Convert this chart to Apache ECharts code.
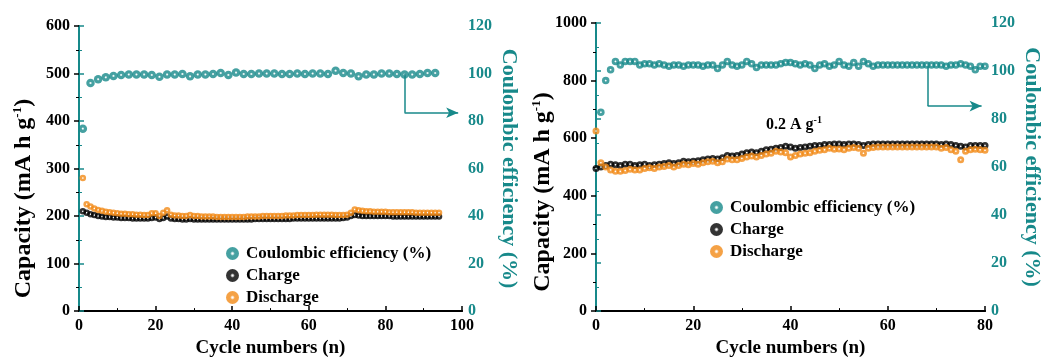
<!DOCTYPE html>
<html>
<head>
<meta charset="utf-8">
<script src="https://cdn.jsdelivr.net/npm/echarts@6/dist/echarts.min.js"></script>
<style>
  html, body { margin: 0; padding: 0; background: #fff; }
  #chart { width: 1049px; height: 363px; }
</style>
</head>
<body>
<div id="chart"></div>
<script>
// left panel: cycles 1..94 (CE every second cycle)
const leftCharge = [210,207,204,202,200,199,198,198,197,197,196,196,196,195,195,195,195,195,196,197,
  194,196,199,195,194,194,193,193,194,193,193,193,193,193,193,193,193,193,193,193,
  193,193,193,193,193,194,194,194,194,194,194,194,194,194,194,195,195,195,195,195,
  195,195,195,195,195,195,195,195,196,197,200,202,201,200,200,200,200,200,200,200,
  200,199,199,199,199,199,199,199,199,199,199,199,199,199];
const leftDischarge = [280,225,220,216,213,211,209,208,207,206,205,205,204,204,203,203,202,202,206,206,
  200,207,212,203,201,201,200,200,202,200,200,199,199,199,199,198,198,198,198,198,
  198,198,198,199,199,199,199,200,200,200,200,200,200,201,201,201,202,202,202,202,
  202,203,203,203,203,203,202,202,202,203,207,214,212,211,210,210,209,209,209,209,
  208,208,208,208,208,208,208,207,207,207,207,207,207,207];
const leftCE = [76.8,96.0,97.6,98.4,99.0,99.4,99.6,99.6,99.6,99.4,98.6,99.6,99.6,99.8,98.8,99.6,
  99.6,99.8,100.2,99.4,100.4,99.8,99.8,100.0,100.0,100.0,99.8,99.8,100.0,99.8,100.0,100.0,
  99.8,101.2,100.2,100.0,98.8,99.6,99.6,100.0,100.0,99.8,99.6,99.6,99.8,100.2,100.2];

// right panel: cycles 0..80 for capacity, 1..80 for CE
const rightCharge = [495,500,505,510,508,505,510,510,505,508,510,505,508,510,512,515,512,515,520,518,
  520,522,525,528,530,528,532,540,538,540,545,550,552,550,555,560,562,565,568,572,
  570,565,568,570,572,575,575,578,578,580,580,578,580,580,578,575,578,580,580,580,
  580,580,580,580,580,580,580,580,580,580,580,578,580,578,575,572,570,575,575,575,575];
const rightDischarge = [625,515,500,490,485,485,488,492,490,490,495,498,495,500,502,505,500,505,510,508,
  512,510,515,518,520,515,518,528,525,525,530,535,538,535,540,545,548,555,552,550,
  535,540,545,548,550,555,558,560,565,562,563,560,565,568,565,548,565,568,570,570,
  570,570,570,570,570,570,570,570,570,570,570,565,568,560,555,525,555,560,562,560,558];
const rightCE = [82.8,96.0,100.5,104.0,102.5,104.0,104.0,104.0,102.5,103.0,103.0,102.5,103.0,102.5,102.0,102.5,
  102.5,102.0,102.5,102.5,102.5,102.0,102.5,102.5,101.0,102.5,104.0,102.5,102.0,102.5,104.0,103.0,
  101.5,102.5,102.5,102.5,102.5,103.0,103.5,103.5,103.0,102.5,103.0,102.5,101.0,102.5,103.0,102.0,
  102.5,104.0,102.5,102.0,103.5,102.0,104.0,103.0,102.0,102.5,102.5,102.5,102.5,102.5,102.5,102.5,
  102.5,102.5,102.5,102.5,102.5,102.5,102.5,102.0,102.5,102.5,103.0,102.5,102.0,100.5,102.0,102.0];

const leftXTicks = [0, 100, 20];
const rightXTicks = [0, 80, 20];

const teal = '#17898a';
const orange = '#f28a17';
const font = 'Liberation Serif';

function ball(c) {
  return new echarts.graphic.RadialGradient(0.5, 0.5, 0.5, [
    { offset: 0, color: '#ffffff' },
    { offset: 0.08, color: '#ffffff' },
    { offset: 0.36, color: c },
    { offset: 1, color: c }
  ]);
}

function pairs(vals, start, step) {
  var out = [];
  for (var i = 0; i < vals.length; i++) out.push([start + i * step, vals[i]]);
  return out;
}

function xAx(grid, ticks) {
  return {
    type: 'value', gridIndex: grid, min: ticks[0], max: ticks[1], interval: ticks[2],
    name: 'Cycle numbers (n)', nameLocation: 'middle', nameGap: 25,
    nameTextStyle: { fontFamily: font, fontWeight: 'bold', fontSize: 19, color: '#000' },
    axisLine: { lineStyle: { color: '#000', width: 2 } },
    axisTick: { inside: true, length: 5, lineStyle: { color: '#000', width: 1.5 } },
    minorTick: { show: true, splitNumber: 2, length: 3, lineStyle: { color: '#000' } },
    axisLabel: { fontFamily: font, fontWeight: 'bold', fontSize: 16, color: '#000', margin: 7 },
    splitLine: { show: false }
  };
}
function topAx(grid, ticks) {
  return {
    type: 'value', gridIndex: grid, position: 'top', min: ticks[0], max: ticks[1],
    axisLine: { lineStyle: { color: '#000', width: 2 } },
    axisTick: { show: false }, axisLabel: { show: false }, splitLine: { show: false }
  };
}
function capAx(grid, max, interval, gap, shift) {
  return {
    type: 'value', gridIndex: grid, position: 'left', min: 0, max: max, interval: interval,
    name: '{a|Capacity (mA h g}{s|-1}{a|)}', nameLocation: 'middle', nameGap: gap,
    nameMoveOverlap: false,
    nameTextStyle: {
      padding: [0, shift, 0, 0],
      rich: {
        a: { fontFamily: font, fontWeight: 'bold', fontSize: 24, color: '#000', lineHeight: 26 },
        s: { fontFamily: font, fontWeight: 'bold', fontSize: 13, color: '#000', verticalAlign: 'top', lineHeight: 26 }
      }
    },
    axisLine: { show: true, lineStyle: { color: '#000', width: 2 } },
    axisTick: { show: true, length: 5, lineStyle: { color: '#000', width: 1.5 } },
    minorTick: { show: true, splitNumber: 2, length: 3, lineStyle: { color: '#000' } },
    axisLabel: { fontFamily: font, fontWeight: 'bold', fontSize: 16, color: '#000', margin: 9,
      formatter: function (v) { return String(v); } },
    splitLine: { show: false }
  };
}
function ceAx(grid) {
  return {
    type: 'value', gridIndex: grid, position: 'right', min: 0, max: 120, interval: 20,
    name: 'Coulombic efficiency (%)', nameLocation: 'middle', nameGap: 36, nameRotate: -90,
    nameTextStyle: { fontFamily: font, fontWeight: 'bold', fontSize: 22, color: teal },
    axisLine: { show: true, lineStyle: { color: teal, width: 2 } },
    axisTick: { show: true, length: 5, lineStyle: { color: teal, width: 1.5 } },
    minorTick: { show: true, splitNumber: 2, length: 3, lineStyle: { color: teal } },
    axisLabel: { fontFamily: font, fontWeight: 'bold', fontSize: 16, color: teal, margin: 6 },
    splitLine: { show: false }
  };
}
function arrow(x, yTop, yBot, xEnd) {
  return {
    silent: true, animation: false, label: { show: false },
    lineStyle: { color: teal, width: 1.5, type: 'solid' },
    data: [
      [{ coord: [x, yTop], symbol: 'none' }, { coord: [x, yBot], symbol: 'none' }],
      [{ coord: [x, yBot], symbol: 'none' }, { coord: [xEnd, yBot], symbol: 'arrow', symbolSize: [8, 12] }]
    ]
  };
}
function legend(left, top) {
  return {
    orient: 'vertical', left: left, top: top, itemWidth: 13, itemHeight: 13, itemGap: 5,
    icon: 'circle', selectedMode: false,
    data: ['Coulombic efficiency (%)', 'Charge', 'Discharge'],
    textStyle: { fontFamily: font, fontWeight: 'bold', fontSize: 17, color: '#000', padding: [0, 0, 0, 2] }
  };
}

var myChart = echarts.init(document.getElementById('chart'));
var option = {
  animation: false,
  grid: [
    { left: 79, right: 587, top: 26, bottom: 51 },
    { left: 596, right: 64, top: 23, bottom: 50 }
  ],
  legend: [legend(221, 240), legend(705, 194)],
  xAxis: [xAx(0, leftXTicks), xAx(1, rightXTicks), topAx(0, leftXTicks), topAx(1, rightXTicks)],
  yAxis: [capAx(0, 600, 100, 42, 60), ceAx(0), capAx(1, 1000, 200, 40, 50), ceAx(1)],
  graphic: [{
    type: 'text', left: 766, top: 115,
    style: {
      text: '{a|0.2 A g}{s|-1}',
      rich: {
        a: { fontFamily: font, fontWeight: 'bold', fontSize: 16, fill: '#000', lineHeight: 20 },
        s: { fontFamily: font, fontWeight: 'bold', fontSize: 10, fill: '#000', verticalAlign: 'top', lineHeight: 20 }
      }
    }
  }],
  series: [
    { name: 'Charge', type: 'scatter', xAxisIndex: 0, yAxisIndex: 0, symbolSize: 6.5,
      itemStyle: { color: ball('#000000') }, data: pairs(leftCharge, 1, 1) },
    { name: 'Discharge', type: 'scatter', xAxisIndex: 0, yAxisIndex: 0, symbolSize: 6.5,
      itemStyle: { color: ball(orange) }, data: pairs(leftDischarge, 1, 1) },
    { name: 'Coulombic efficiency (%)', type: 'scatter', xAxisIndex: 0, yAxisIndex: 1, symbolSize: 8.5,
      itemStyle: { color: ball(teal) }, data: pairs(leftCE, 1, 2),
      markLine: arrow(85, 100, 83.5, 99) },
    { name: 'Charge', type: 'scatter', xAxisIndex: 1, yAxisIndex: 2, symbolSize: 7,
      itemStyle: { color: ball('#000000') }, data: pairs(rightCharge, 0, 1) },
    { name: 'Discharge', type: 'scatter', xAxisIndex: 1, yAxisIndex: 2, symbolSize: 7,
      itemStyle: { color: ball(orange) }, data: pairs(rightDischarge, 0, 1) },
    { name: 'Coulombic efficiency (%)', type: 'scatter', xAxisIndex: 1, yAxisIndex: 3, symbolSize: 7.5,
      itemStyle: { color: ball(teal) }, data: pairs(rightCE, 1, 1),
      markLine: arrow(68.2, 102, 85.4, 79.3) }
  ]
};
myChart.setOption(option);
window.addEventListener('resize', function () {
  myChart.resize();
});
</script>
</body>
</html>
